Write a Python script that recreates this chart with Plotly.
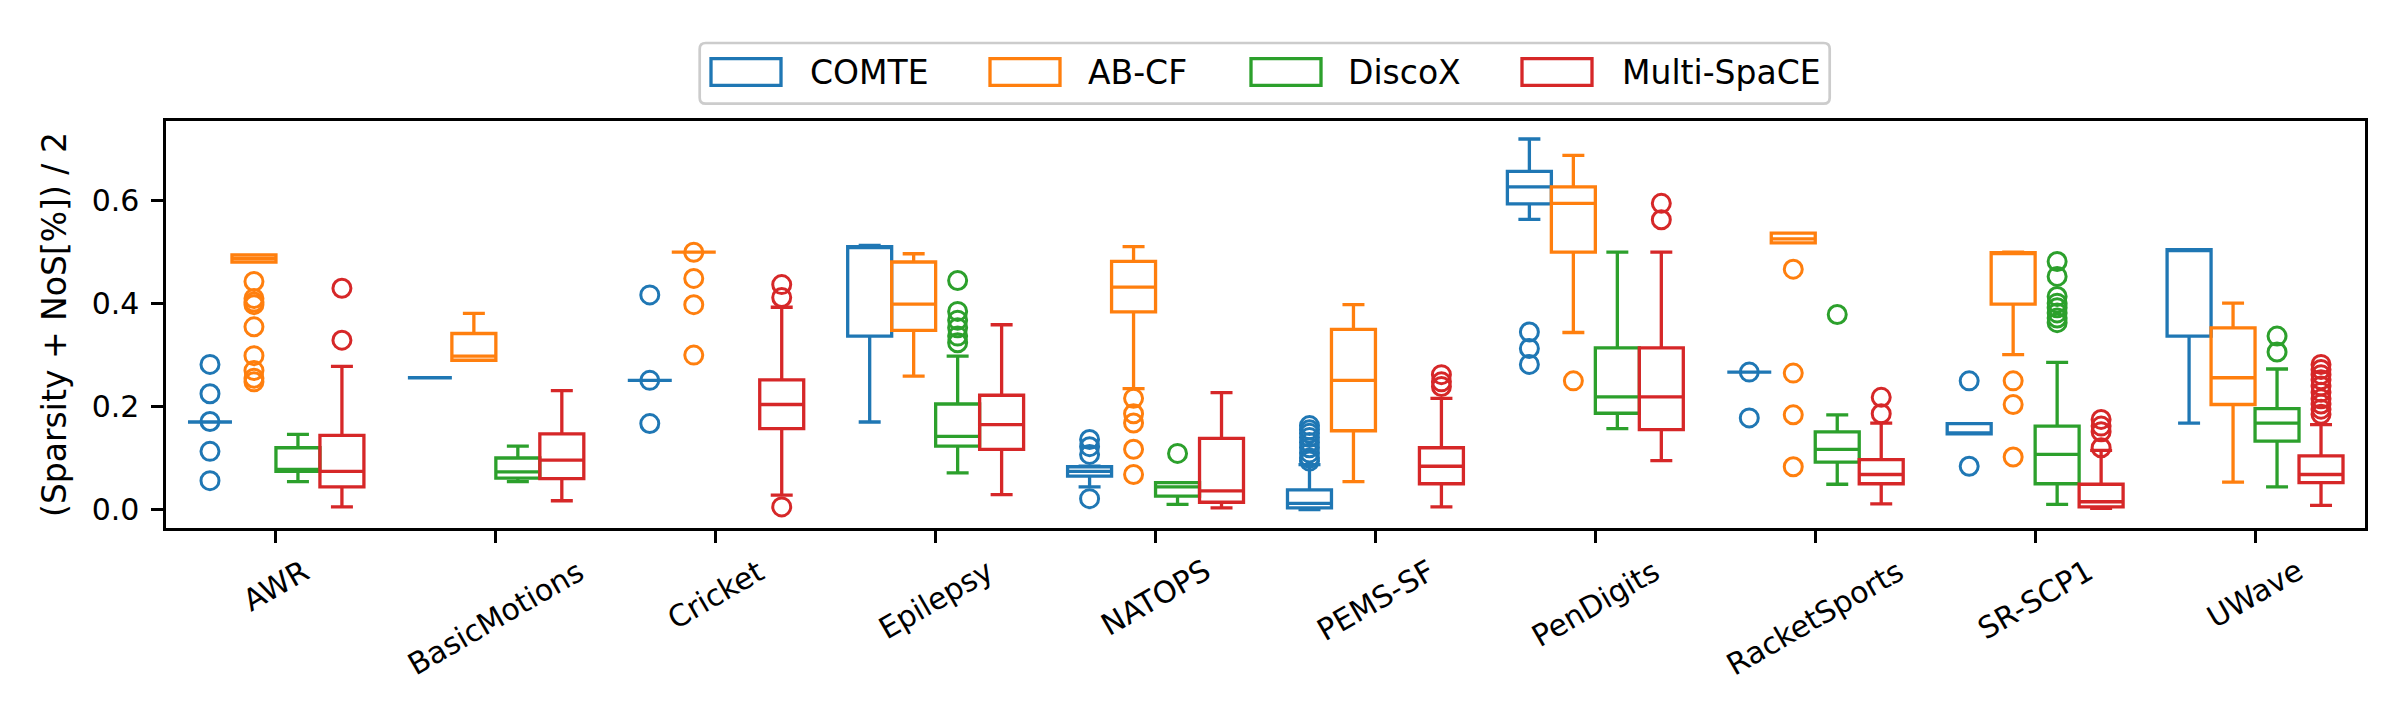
import plotly.graph_objects as go

categories = ["AWR", "BasicMotions", "Cricket", "Epilepsy", "NATOPS",
              "PEMS-SF", "PenDigits", "RacketSports", "SR-SCP1", "UWave"]
methods = ["COMTE", "AB-CF", "DiscoX", "Multi-SpaCE"]
colors = ["#1f77b4", "#ff7f0e", "#2ca02c", "#d62728"]
offsets = [-0.3, -0.1, 0.1, 0.3]

# Box statistics per method, per dataset (None = no data for that dataset)
# each entry: (lowerfence, q1, median, q3, upperfence)
stats = {
    "COMTE": [
        (0.170, 0.170, 0.170, 0.170, 0.170),
        (0.256, 0.256, 0.256, 0.256, 0.256),
        (0.251, 0.251, 0.251, 0.251, 0.251),
        (0.170, 0.337, 0.510, 0.511, 0.513),
        (0.044, 0.065, 0.074, 0.083, 0.084),
        (0.000, 0.003, 0.012, 0.038, 0.087),
        (0.564, 0.594, 0.627, 0.657, 0.720),
        (0.267, 0.267, 0.267, 0.267, 0.267),
        (0.147, 0.147, 0.147, 0.167, 0.167),
        (0.168, 0.337, 0.505, 0.505, 0.505),
    ],
    "AB-CF": [
        (0.481, 0.481, 0.488, 0.495, 0.495),
        (0.290, 0.290, 0.298, 0.342, 0.381),
        (0.500, 0.500, 0.500, 0.500, 0.500),
        (0.259, 0.348, 0.399, 0.481, 0.497),
        (0.235, 0.384, 0.432, 0.482, 0.511),
        (0.054, 0.153, 0.251, 0.350, 0.398),
        (0.344, 0.500, 0.595, 0.627, 0.688),
        (0.518, 0.518, 0.526, 0.537, 0.537),
        (0.301, 0.399, 0.499, 0.499, 0.500),
        (0.053, 0.204, 0.256, 0.353, 0.401),
    ],
    "DiscoX": [
        (0.054, 0.074, 0.078, 0.120, 0.146),
        (0.054, 0.061, 0.073, 0.100, 0.123),
        None,
        (0.071, 0.123, 0.142, 0.205, 0.298),
        (0.010, 0.026, 0.044, 0.052, 0.052),
        None,
        (0.157, 0.187, 0.219, 0.314, 0.500),
        (0.049, 0.092, 0.117, 0.151, 0.184),
        (0.010, 0.050, 0.107, 0.162, 0.286),
        (0.044, 0.133, 0.168, 0.196, 0.273),
    ],
    "Multi-SpaCE": [
        (0.005, 0.044, 0.074, 0.144, 0.278),
        (0.017, 0.060, 0.096, 0.147, 0.231),
        (0.028, 0.157, 0.204, 0.252, 0.393),
        (0.029, 0.117, 0.165, 0.222, 0.359),
        (0.003, 0.014, 0.036, 0.138, 0.227),
        (0.005, 0.050, 0.084, 0.120, 0.216),
        (0.095, 0.155, 0.219, 0.314, 0.500),
        (0.011, 0.050, 0.068, 0.097, 0.168),
        (0.002, 0.005, 0.015, 0.049, 0.115),
        (0.008, 0.052, 0.068, 0.104, 0.165),
    ],
}

# Outliers per method, per dataset
outliers = {
    "COMTE": [
        [0.282, 0.225, 0.171, 0.113, 0.056],
        [],
        [0.417, 0.251, 0.167],
        [],
        [0.136, 0.122, 0.107, 0.021],
        [0.163, 0.155, 0.148, 0.140, 0.130, 0.120, 0.110, 0.100, 0.094],
        [0.345, 0.313, 0.282],
        [0.267, 0.178],
        [0.250, 0.084],
        [],
    ],
    "AB-CF": [
        [0.443, 0.410, 0.403, 0.398, 0.355, 0.299, 0.270, 0.255, 0.248],
        [],
        [0.500, 0.449, 0.398, 0.300],
        [],
        [0.216, 0.186, 0.168, 0.117, 0.068],
        [],
        [0.250],
        [0.467, 0.265, 0.184, 0.083],
        [0.250, 0.204, 0.102],
        [],
    ],
    "DiscoX": [
        [],
        [],
        [],
        [0.445, 0.385, 0.368, 0.353, 0.337, 0.324],
        [0.109],
        [],
        [],
        [0.379],
        [0.482, 0.453, 0.414, 0.401, 0.392, 0.382, 0.372, 0.363],
        [0.337, 0.306],
    ],
    "Multi-SpaCE": [
        [0.430, 0.329],
        [],
        [0.437, 0.412, 0.005],
        [],
        [],
        [0.262, 0.248, 0.239],
        [0.595, 0.563],
        [0.218, 0.186],
        [0.175, 0.162, 0.151, 0.120],
        [0.282, 0.272, 0.262, 0.252, 0.240, 0.228, 0.215, 0.205, 0.195, 0.185],
    ],
}

ytick_vals = [0.0, 0.2, 0.4, 0.6]
ytick_text = ["0.0", "0.2", "0.4", "0.6"]
y_title = "(Sparsity + NoS[%]) / 2"

FONT = "DejaVu Sans"
W, H = 2392, 718
PL, PR, PT, PB = 158, 2357, 113, 520  # plot area in pixels
PW, PH = PR - PL, PB - PT


def px_x(p):
    return (p - PL) / PW


def px_y(p):
    return (PB - p) / PH


fig = go.Figure()

for m, col, off in zip(methods, colors, offsets):
    xs, lf, q1, md, q3, uf = [], [], [], [], [], []
    for i, s in enumerate(stats[m]):
        if s is None:
            continue
        xs.append(i + 1 + off)
        lf.append(s[0]); q1.append(s[1]); md.append(s[2]); q3.append(s[3]); uf.append(s[4])
    fig.add_trace(go.Box(
        x=xs, lowerfence=lf, q1=q1, median=md, q3=q3, upperfence=uf,
        name=m, width=0.2, whiskerwidth=0.5, showlegend=False,
        line=dict(color=col, width=3.3), fillcolor="rgba(0,0,0,0)",
        boxpoints=False, hoverinfo="skip",
    ))

for m, col, off in zip(methods, colors, offsets):
    ox, oy = [], []
    for i, pts in enumerate(outliers[m]):
        for v in pts:
            ox.append(i + 1 + off)
            oy.append(v)
    fig.add_trace(go.Scatter(
        x=ox, y=oy, mode="markers", showlegend=False, hoverinfo="skip",
        marker=dict(symbol="circle-open", size=18, color=col,
                    line=dict(color=col, width=3)),
    ))

# x tick labels (rotated, centred under the ticks like matplotlib)
for i, c in enumerate(categories):
    fig.add_annotation(
        x=i + 1, y=0, xref="x", yref="paper", text=c, showarrow=False,
        textangle=-30, xanchor="center", yanchor="top", yshift=-22,
        font=dict(family=FONT, size=30, color="black"),
    )

# legend drawn like matplotlib's (frame + outlined patches + labels)
leg_left, leg_right, leg_top, leg_bot = 691.7, 1821.7, 35, 95.7
rx, ry = 6 / PW, 6 / PH
x0, x1, y0, y1 = px_x(leg_left), px_x(leg_right), px_y(leg_bot), px_y(leg_top)
frame_path = (f"M{x0+rx},{y0} L{x1-rx},{y0} Q{x1},{y0} {x1},{y0+ry} "
              f"L{x1},{y1-ry} Q{x1},{y1} {x1-rx},{y1} L{x0+rx},{y1} "
              f"Q{x0},{y1} {x0},{y1-ry} L{x0},{y0+ry} Q{x0},{y0} {x0+rx},{y0} Z")
fig.add_shape(type="path", path=frame_path, xref="paper", yref="paper",
              line=dict(color="#cccccc", width=2.7), fillcolor="white",
              layer="above")
patch_left = [703, 982, 1243, 1514]
text_left = [800, 1078, 1338, 1612]
for m, col, pl, tl in zip(methods, colors, patch_left, text_left):
    fig.add_shape(type="rect", xref="paper", yref="paper",
                  x0=px_x(pl), x1=px_x(pl + 70), y0=px_y(77.3), y1=px_y(50.7),
                  line=dict(color=col, width=3.3), fillcolor="white",
                  layer="above")
    fig.add_annotation(x=px_x(tl), y=px_y(64), xref="paper", yref="paper",
                       text=m, showarrow=False, xanchor="left", yanchor="middle",
                       font=dict(family=FONT, size=33, color="black"))

fig.update_layout(
    width=W, height=H,
    margin=dict(l=PL, r=W - PR, t=PT, b=H - PB),
    paper_bgcolor="white", plot_bgcolor="white",
    boxmode="overlay", showlegend=False,
    font=dict(family=FONT, size=30, color="black"),
    xaxis=dict(
        range=[0.5, 10.5], tickvals=list(range(1, len(categories) + 1)),
        ticktext=[""] * len(categories), showticklabels=False,
        ticks="outside", ticklen=11.7, tickwidth=2.7, tickcolor="black",
        showline=True, linecolor="black", linewidth=2.7, mirror=True,
        showgrid=False, zeroline=False,
    ),
    yaxis=dict(
        range=[-0.036, 0.755], tickvals=ytick_vals, ticktext=ytick_text,
        ticks="outside", ticklen=11.7, tickwidth=2.7, tickcolor="black",
        showline=True, linecolor="black", linewidth=2.7, mirror=True,
        showgrid=False, zeroline=False,
        tickfont=dict(family=FONT, size=30), ticklabelstandoff=6,
        title=dict(text=y_title, font=dict(family=FONT, size=33), standoff=16),
    ),
)

fig.write_html("out.html")
